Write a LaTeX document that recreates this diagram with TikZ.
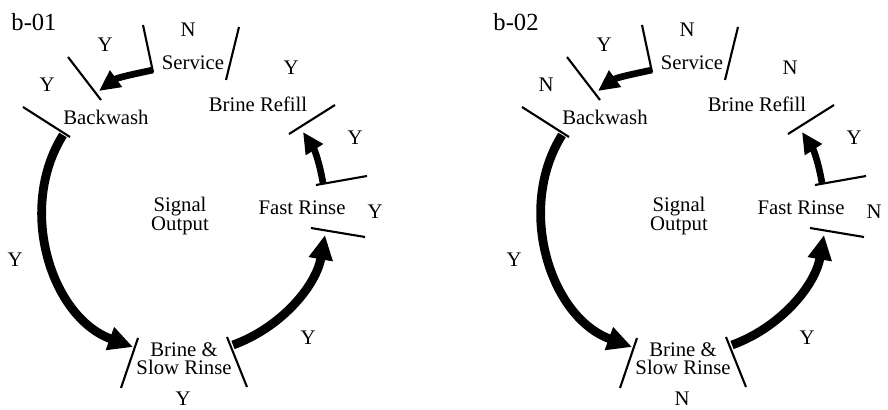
\documentclass[tikz,border=0pt]{standalone}
\usepackage{fontspec}
\setmainfont{Liberation Serif}
\usetikzlibrary{arrows.meta}
\tikzset{
  flow/.style={line width=5pt,-{Triangle[length=14pt,width=13pt]}},
  short flow/.style={line width=3.8pt,-{Triangle[length=12pt,width=11pt]}},
  tick/.style={line width=1.2pt},
  lbl/.style={font=\fontsize{11.8}{10.4}\selectfont,inner sep=0pt},
  stage/.style={font=\fontsize{11.8}{10.4}\selectfont,inner sep=0pt,align=center}
}
\begin{document}
\begin{tikzpicture}[x=0.02cm,y=0.02cm]
  \useasboundingbox (0,0) rectangle (888,409);
  \foreach \dx/\p/\ttl/\tx/\la/\lb/\lc/\ld/\le/\lf/\lg/\lh/\li in
    {0/l/b-01/34/N/Y/Y/Y/Y/Y/Y/Y/Y,499/r/b-02/17/N/Y/N/N/Y/N/Y/Y/N}{
  \begin{scope}[shift={(\dx,0)}]
    \node[lbl,font=\fontsize{14}{14}\selectfont] (\p-title) at (\tx,387) {\ttl};
    \node[stage] (\p-svc) at (193,346) {Service};
    \node[stage] (\p-bw) at (106,292) {Backwash};
    \node[stage] (\p-rf) at (258,305) {Brine Refill};
    \node[stage] (\p-fr) at (302,201) {Fast Rinse};
    \node[stage] (\p-sl) at (184,50) {Brine \&\\Slow Rinse};
    \node[stage] (\p-sig) at (180,193) {Signal\\Output};
    \node[lbl] (\p-y1) at (188,379) {\la};
    \node[lbl] (\p-y2) at (105,364) {\lb};
    \node[lbl] (\p-y3) at (47,324) {\lc};
    \node[lbl] (\p-y4) at (291,341) {\ld};
    \node[lbl] (\p-y5) at (355,271) {\le};
    \node[lbl] (\p-y6) at (375,197) {\lf};
    \node[lbl] (\p-y7) at (15,149) {\lg};
    \node[lbl] (\p-y8) at (308,71) {\lh};
    \node[lbl] (\p-y9) at (183,10) {\li};
    \draw[tick] (143,384) -- (153,337);
    \draw[tick] (239,382) -- (226,329);
    \draw[tick] (68,352) -- (101,309);
    \draw[tick] (23,302) -- (70,272);
    \draw[tick] (289,275) -- (335,304);
    \draw[tick] (316,224) -- (367,233);
    \draw[tick] (311,181) -- (365,172);
    \draw[tick] (138,71) -- (121,21);
    \draw[tick] (227,72) -- (247,22);
    \coordinate (\p-svc-out) at (153,339);
    \coordinate (\p-bw-in) at (99,318);
    \coordinate (\p-bw-out) at (63,274);
    \coordinate (\p-sl-in) at (133,62);
    \coordinate (\p-sl-out) at (233,64);
    \coordinate (\p-fr-in) at (325,174);
    \coordinate (\p-fr-out) at (323,226);
    \coordinate (\p-rf-in) at (303,277);
    \draw[short flow] (\p-svc-out) to[out=192,in=36] (\p-bw-in);
    \draw[flow] (\p-bw-out) to[out=238,in=160] (\p-sl-in);
    \draw[flow] (\p-sl-out) to[out=20,in=260,looseness=0.92] (\p-fr-in);
    \draw[short flow] (\p-fr-out) to[out=100,in=303] (\p-rf-in);
  \end{scope}}
\end{tikzpicture}
\end{document}
